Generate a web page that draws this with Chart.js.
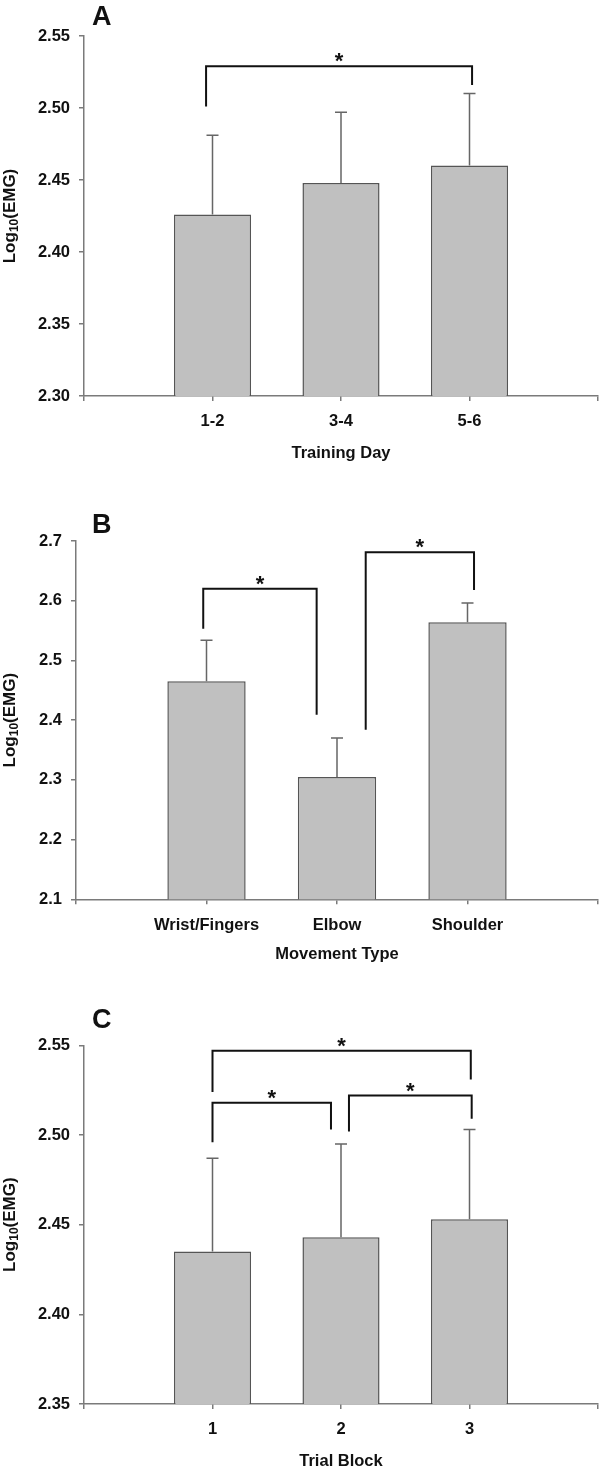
<!DOCTYPE html>
<html>
<head>
<meta charset="utf-8">
<script src="https://cdn.jsdelivr.net/npm/chart.js@4.4.1/dist/chart.umd.min.js"></script>
<style>
  html, body { margin: 0; padding: 0; background: #fff; }
  body { width: 600px; height: 1468px; position: relative; overflow: hidden; }
  canvas { position: absolute; left: 0; display: block; }
</style>
</head>
<body>
<canvas id="chartA" width="600" height="470" style="top:0px"></canvas>
<canvas id="chartB" width="600" height="492" style="top:470px"></canvas>
<canvas id="chartC" width="600" height="506" style="top:962px"></canvas>

<script>
// ---- data ----
// A: training day
const dayLabels = ["1-2", "3-4", "5-6"];
const dayMeans = [2.426, 2.448, 2.460];
const dayErrors = [0.055, 0.049, 0.050];
const dayTicks = [2.30, 2.35, 2.40, 2.45, 2.50, 2.55];
// brackets: [from index, to index, bar height, left leg end, right leg end]
const dayBrackets = [[0.95, 3.02, 2.529, 2.501, 2.516]];

// B: movement type
const moveLabels = ["Wrist/Fingers", "Elbow", "Shoulder"];
const moveMeans = [2.465, 2.305, 2.564];
const moveErrors = [0.069, 0.065, 0.032];
const moveTicks = [2.1, 2.2, 2.3, 2.4, 2.5, 2.6, 2.7];
const moveBrackets = [
  [0.975, 1.844, 2.620, 2.553, 2.409],
  [2.22, 3.05, 2.681, 2.384, 2.618]
];

// C: trial block
const blockLabels = ["1", "2", "3"];
const blockMeans = [2.435, 2.443, 2.453];
const blockErrors = [0.052, 0.052, 0.050];
const blockTicks = [2.35, 2.40, 2.45, 2.50, 2.55];
const blockBrackets = [
  [1.0, 3.01, 2.547, 2.524, 2.531],
  [1.0, 1.922, 2.518, 2.496, 2.503],
  [2.062, 3.017, 2.522, 2.502, 2.509]
];

const FONT = '"Liberation Sans", Arial, Helvetica, sans-serif';
const INK = "#111111";
const AXIS = "#7a7a7a";

function makePanel(p){
  const canvas = document.getElementById(p.id);
  const h = canvas.height;
  // empty slots at both ends so the bars sit at 1/4, 2/4, 3/4 of the axis
  const labels = ["", ...p.labels, ""];
  const values = [null, ...p.means, null];

  const extras = {
    id: "extras",
    afterDatasetsDraw(chart){
      const ctx = chart.ctx;
      const xs = chart.scales.x, ys = chart.scales.y;
      ctx.save();

      // upper error bars
      ctx.strokeStyle = "#666";
      ctx.lineWidth = 1.5;
      p.means.forEach((m, i) => {
        const px = xs.getPixelForValue(i + 1);
        const y0 = ys.getPixelForValue(m);
        const y1 = ys.getPixelForValue(m + p.errors[i]);
        ctx.beginPath();
        ctx.moveTo(px, y0);
        ctx.lineTo(px, y1);
        ctx.moveTo(px - 6, y1);
        ctx.lineTo(px + 6, y1);
        ctx.stroke();
      });

      // significance brackets + stars
      ctx.strokeStyle = INK;
      ctx.fillStyle = INK;
      ctx.lineWidth = 2;
      ctx.font = "bold 22px " + FONT;
      ctx.textAlign = "center";
      ctx.textBaseline = "alphabetic";
      p.brackets.forEach(([a, b, top, endA, endB]) => {
        const xa = xs.getPixelForValue(a);
        const xb = xs.getPixelForValue(b);
        const yt = ys.getPixelForValue(top);
        ctx.beginPath();
        ctx.moveTo(xa, ys.getPixelForValue(endA));
        ctx.lineTo(xa, yt);
        ctx.lineTo(xb, yt);
        ctx.lineTo(xb, ys.getPixelForValue(endB));
        ctx.stroke();
        ctx.fillText("*", (xa + xb) / 2, yt + 2);
      });
      ctx.restore();
    },
    afterDraw(chart){
      const ctx = chart.ctx;
      const area = chart.chartArea;
      ctx.save();
      ctx.fillStyle = INK;

      // panel letter
      ctx.font = "bold 27px " + FONT;
      ctx.textAlign = "left";
      ctx.textBaseline = "alphabetic";
      ctx.fillText(p.letter, 92, p.letterY);

      // y title with subscript: Log10(EMG)
      const big = "bold 17px " + FONT, small = "bold 12px " + FONT;
      ctx.font = big;
      const w1 = ctx.measureText("Log").width;
      const w3 = ctx.measureText("(EMG)").width;
      ctx.font = small;
      const w2 = ctx.measureText("10").width;
      const total = w1 + w2 + w3;
      ctx.translate(9, (area.top + area.bottom) / 2);
      ctx.rotate(-Math.PI / 2);
      let x0 = -total / 2;
      ctx.font = big;
      ctx.fillText("Log", x0, 6);
      x0 += w1;
      ctx.font = small;
      ctx.fillText("10", x0, 9);
      x0 += w2;
      ctx.font = big;
      ctx.fillText("(EMG)", x0, 6);
      ctx.restore();
    }
  };

  const tickFont = { family: FONT, size: 16.5, weight: "bold" };

  return new Chart(canvas, {
    type: "bar",
    data: {
      labels,
      datasets: [{
        data: values,
        backgroundColor: "#c0c0c0",
        borderColor: "#555555",
        borderWidth: 1.5,
        barPercentage: 0.6,
        categoryPercentage: 1
      }]
    },
    options: {
      responsive: false,
      animation: false,
      layout: { padding: { top: p.areaTop, right: 2, left: 0, bottom: 0 } },
      plugins: {
        legend: { display: false },
        tooltip: { enabled: false }
      },
      scales: {
        x: {
          offset: false,
          grid: { offset: false, drawOnChartArea: false, tickLength: 5, color: AXIS, lineWidth: 1.5 },
          border: { color: AXIS, width: 1.5 },
          ticks: { color: INK, font: tickFont, padding: 11, maxRotation: 0, autoSkip: false },
          title: {
            display: true,
            text: p.xTitle,
            color: INK,
            font: tickFont,
            padding: { top: 0, bottom: h - p.titleY - 9.9 }
          },
          afterFit: (s) => {
            s.height = h - p.areaBottom;
            // the end slots are empty, so no label overhang to reserve
            s.paddingLeft = 0;
            s.paddingRight = 0;
          }
        },
        y: {
          min: p.ticks[0],
          max: p.ticks[p.ticks.length - 1],
          afterBuildTicks: (s) => { s.ticks = p.ticks.map(v => ({ value: v })); },
          grid: { drawOnChartArea: false, tickLength: 5, color: AXIS, lineWidth: 1.5 },
          border: { color: AXIS, width: 1.5 },
          ticks: {
            color: INK,
            font: tickFont,
            padding: 9,
            callback: (v) => Number(v).toFixed(p.decimals)
          },
          afterFit: (s) => { s.width = p.areaLeft; }
        }
      }
    },
    plugins: [extras]
  });
}

makePanel({
  id: "chartA", letter: "A", letterY: 25,
  labels: dayLabels, means: dayMeans, errors: dayErrors,
  ticks: dayTicks, decimals: 2, brackets: dayBrackets,
  xTitle: "Training Day",
  areaTop: 36, areaBottom: 396, areaLeft: 84, titleY: 453
});

makePanel({
  id: "chartB", letter: "B", letterY: 63,
  labels: moveLabels, means: moveMeans, errors: moveErrors,
  ticks: moveTicks, decimals: 1, brackets: moveBrackets,
  xTitle: "Movement Type",
  areaTop: 71, areaBottom: 429.3, areaLeft: 76, titleY: 484
});

makePanel({
  id: "chartC", letter: "C", letterY: 66,
  labels: blockLabels, means: blockMeans, errors: blockErrors,
  ticks: blockTicks, decimals: 2, brackets: blockBrackets,
  xTitle: "Trial Block",
  areaTop: 83.3, areaBottom: 442, areaLeft: 84, titleY: 499
});
</script>
</body>
</html>
